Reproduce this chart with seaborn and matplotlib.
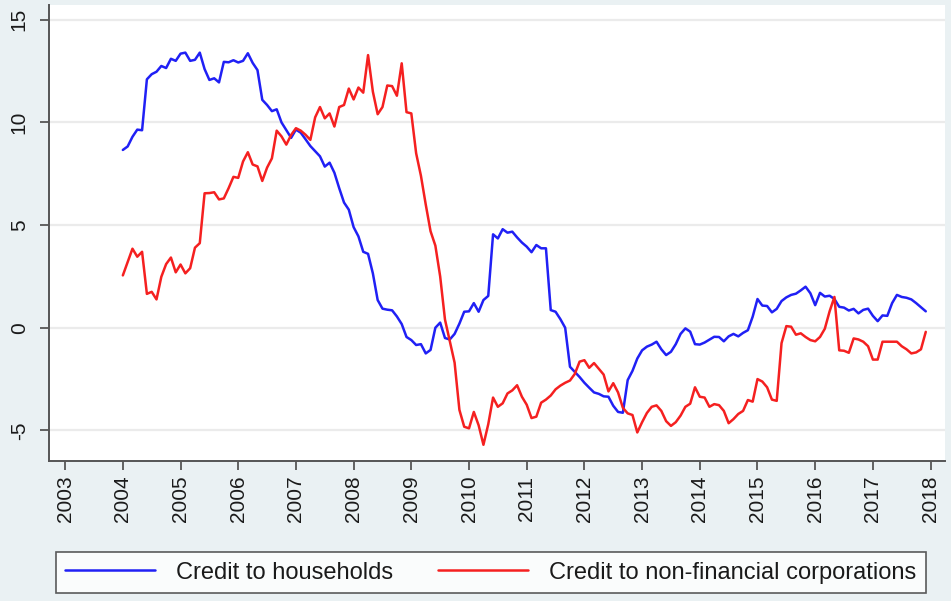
import numpy as np
import pandas as pd
import matplotlib
matplotlib.use("Agg")
import matplotlib.pyplot as plt
import seaborn as sns
from matplotlib.lines import Line2D

# ---- data (monthly growth rates, %, Jan 2004 - Dec 2017) ----
start_month = "2004-01"
households = [
    8.66, 8.83, 9.3, 9.65, 9.62, 12.1, 12.35, 12.47, 12.75, 12.65, 13.1, 13.0,
    13.35, 13.4, 13.0, 13.05, 13.4, 12.6, 12.07, 12.15, 11.95, 12.95, 12.93, 13.03,
    12.92, 13.0, 13.37, 12.9, 12.55, 11.1, 10.85, 10.55, 10.64, 10.0, 9.63, 9.25,
    9.65, 9.5, 9.18, 8.85, 8.6, 8.35, 7.85, 8.04, 7.55, 6.8, 6.1, 5.75,
    4.9, 4.45, 3.7, 3.6, 2.65, 1.35, 0.93, 0.88, 0.85, 0.55, 0.18, -0.45,
    -0.6, -0.84, -0.8, -1.25, -1.08, 0.0, 0.25, -0.5, -0.57, -0.3, 0.2, 0.78,
    0.8, 1.2, 0.78, 1.35, 1.55, 4.55, 4.35, 4.8, 4.63, 4.68, 4.4, 4.15,
    3.95, 3.68, 4.03, 3.87, 3.87, 0.86, 0.78, 0.42, 0.0, -1.9, -2.15, -2.4,
    -2.68, -2.92, -3.15, -3.22, -3.34, -3.36, -3.8, -4.1, -4.14, -2.55, -2.1, -1.5,
    -1.1, -0.92, -0.82, -0.68, -1.05, -1.33, -1.17, -0.8, -0.3, -0.03, -0.19, -0.8,
    -0.82, -0.72, -0.58, -0.44, -0.45, -0.66, -0.42, -0.3, -0.42, -0.25, -0.12, 0.54,
    1.4, 1.08, 1.06, 0.75, 0.92, 1.3, 1.48, 1.6, 1.66, 1.82, 2.0, 1.68,
    1.1, 1.7, 1.52, 1.56, 1.4, 1.02, 0.98, 0.84, 0.92, 0.7, 0.87, 0.93,
    0.58, 0.32, 0.6, 0.58, 1.2, 1.6, 1.5, 1.46, 1.38, 1.2, 1.0, 0.8,
]
corporations = [
    2.55, 3.2, 3.85, 3.46, 3.7, 1.65, 1.75, 1.38, 2.48, 3.1, 3.42, 2.7,
    3.08, 2.65, 2.9, 3.9, 4.12, 6.55, 6.56, 6.6, 6.25, 6.3, 6.8, 7.35,
    7.3, 8.1, 8.55, 7.95, 7.86, 7.15, 7.8, 8.25, 9.6, 9.32, 8.92, 9.39,
    9.72, 9.6, 9.4, 9.15, 10.25, 10.75, 10.2, 10.44, 9.8, 10.75, 10.85, 11.65,
    11.12, 11.7, 11.45, 13.28, 11.5, 10.4, 10.75, 11.8, 11.77, 11.3, 12.88, 10.5,
    10.44, 8.5, 7.4, 6.0, 4.7, 4.0, 2.5, 0.4, -0.65, -1.7, -4.0, -4.82,
    -4.9, -4.1, -4.75, -5.7, -4.7, -3.4, -3.85, -3.68, -3.2, -3.05, -2.8, -3.36,
    -3.75, -4.4, -4.33, -3.65, -3.5, -3.3, -3.0, -2.82, -2.68, -2.57, -2.25, -1.65,
    -1.58, -1.95, -1.72, -2.0, -2.28, -3.1, -2.7, -3.15, -3.9, -4.17, -4.25, -5.1,
    -4.6, -4.15, -3.85, -3.78, -4.05, -4.55, -4.78, -4.6, -4.28, -3.85, -3.7, -2.9,
    -3.36, -3.4, -3.85, -3.72, -3.77, -4.05, -4.65, -4.45, -4.2, -4.05, -3.52, -3.6,
    -2.5, -2.62, -2.9, -3.5, -3.56, -0.75, 0.08, 0.05, -0.34, -0.27, -0.45, -0.6,
    -0.66, -0.45, -0.05, 0.8, 1.5, -1.1, -1.12, -1.22, -0.52, -0.57, -0.68, -0.9,
    -1.55, -1.55, -0.68, -0.68, -0.68, -0.68, -0.9, -1.05, -1.25, -1.2, -1.05, -0.2,
]
series_names = ["Credit to households", "Credit to non-financial corporations"]
year_ticks = list(range(2003, 2019))
y_ticks = [-5, 0, 5, 10, 15]

dates = pd.date_range(start_month, periods=len(households), freq="MS")
t = dates.year + (dates.month - 1) / 12.0
df = pd.concat([
    pd.DataFrame({"t": t, "value": households, "series": series_names[0]}),
    pd.DataFrame({"t": t, "value": corporations, "series": series_names[1]}),
])

sns.set_theme(style="white")
plt.rcParams["font.family"] = ["Liberation Sans", "DejaVu Sans"]

bg = "#EAF1F3"
fig = plt.figure(figsize=(9.51, 6.01), dpi=100, facecolor=bg)
ax = fig.add_axes([49 / 951, 1 - 461 / 601, (945 - 49) / 951, (461 - 5) / 601])
ax.set_facecolor("white")

palette = {series_names[0]: "#2020f5", series_names[1]: "#f52020"}
sns.lineplot(data=df, x="t", y="value", hue="series", palette=palette,
             linewidth=1.8, ax=ax, legend=False)

ax.set_xlim(2002.72, 2018.25)
ax.set_ylim(-6.49, 15.72)
ax.set_xticks(year_ticks)
ax.set_xticklabels([str(y) for y in year_ticks], rotation=90)
ax.set_yticks(y_ticks)
ax.set_yticklabels([str(v) for v in y_ticks], rotation=90, va="center")
ax.set_xlabel("")
ax.set_ylabel("")

ax.grid(axis="y", color="#ebebeb", linewidth=1.6)
ax.grid(axis="x", visible=False)
ax.set_axisbelow(True)
for s in ["top", "right"]:
    ax.spines[s].set_visible(False)
for s in ["left", "bottom"]:
    ax.spines[s].set_color("#555555")
    ax.spines[s].set_linewidth(1.4)

ax.tick_params(axis="x", which="major", length=6.5, width=1.3, color="#555555",
               direction="out", bottom=True, labelsize=15, pad=4,
               labelcolor="#1a1a1a")
ax.tick_params(axis="y", which="major", length=6.5, width=1.3, color="#555555",
               direction="out", left=True, labelsize=15, pad=8,
               labelcolor="#1a1a1a")

handles = [Line2D([], [], color=palette[n], linewidth=1.8) for n in series_names]
leg = fig.legend(handles, series_names, loc="lower left",
                 bbox_to_anchor=(56 / 951, 8 / 601),
                 ncol=2, fontsize=17, frameon=True,
                 fancybox=False, handlelength=3.8, handletextpad=0.9,
                 columnspacing=1.9, borderpad=0.4, borderaxespad=0)
leg.get_frame().set_edgecolor("#333333")
leg.get_frame().set_linewidth(1.2)
leg.get_frame().set_facecolor("white")
for txt in leg.get_texts():
    txt.set_color("#1a1a1a")

fig.savefig("out.png", dpi=100, facecolor=bg)
